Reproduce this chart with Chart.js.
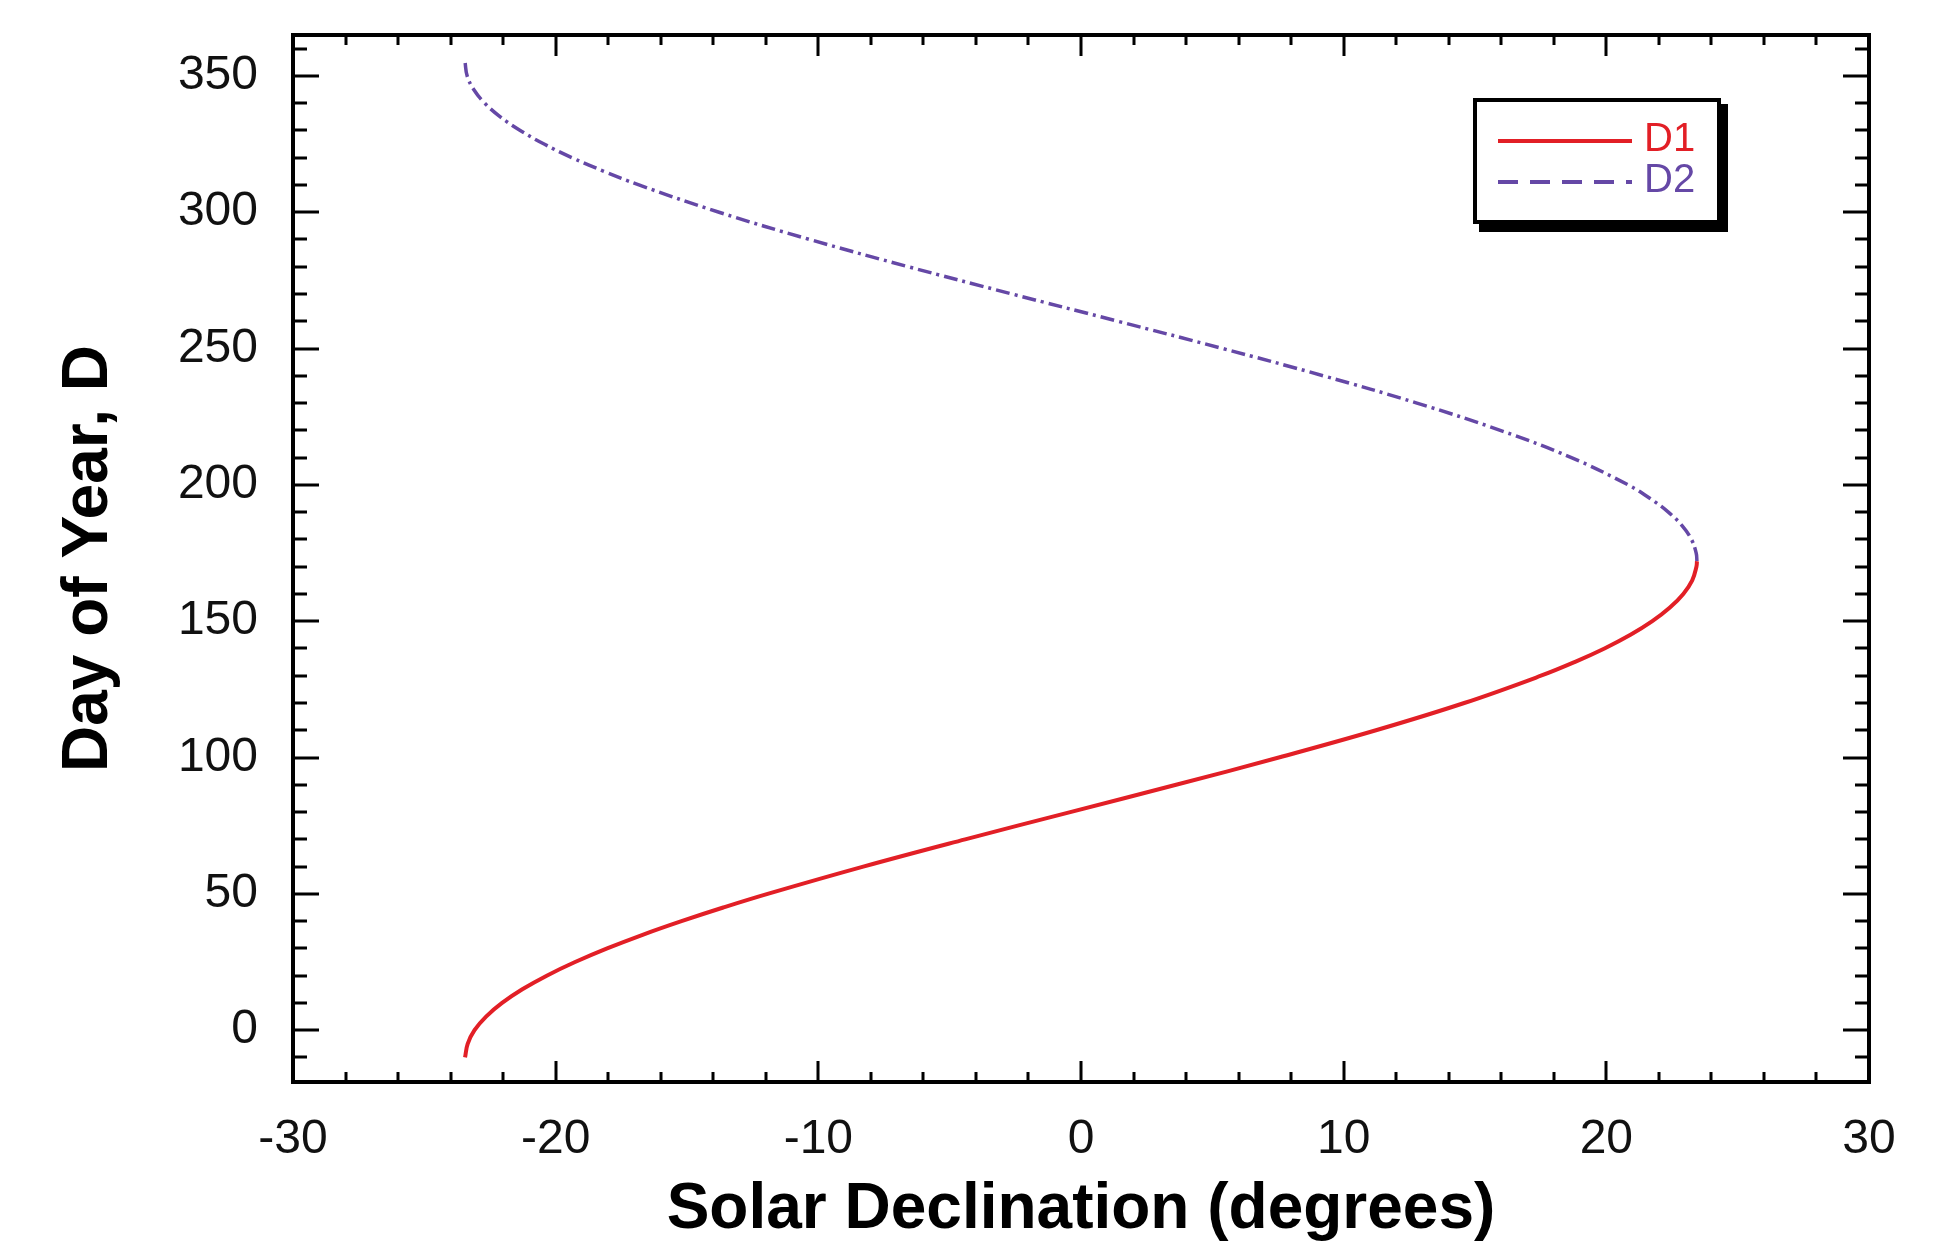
<!DOCTYPE html>
<html>
<head>
<meta charset="utf-8">
<title>Solar Declination vs Day of Year</title>
<script src="https://cdn.jsdelivr.net/npm/chart.js@4.4.1/dist/chart.umd.min.js"></script>
<style>
  html, body { margin: 0; padding: 0; background: #fff; }
  canvas { display: block; }
</style>
</head>
<body>
<canvas id="chart1" width="1948" height="1249"></canvas>
<script>
// values: day of year (y) against solar declination in degrees (x)
const d1Days = [-10, -5, 0, 5, 10, 15, 20, 25, 30, 35, 40, 45, 50, 60, 70, 80, 90, 100, 110, 120, 130, 135, 140, 145, 150, 155, 160, 165, 170, 172];
const d1Decl = [-23.45, -23.35, -23.09, -22.65, -22.04, -21.27, -20.34, -19.26, -18.04, -16.69, -15.21, -13.62, -11.93, -8.29, -4.41, -0.41, 3.62, 7.53, 11.23, 14.59, 17.51, 18.79, 19.93, 20.92, 21.75, 22.42, 22.93, 23.27, 23.43, 23.45];

const d2Days = [172, 175, 180, 185, 190, 195, 200, 210, 220, 230, 240, 250, 260, 270, 280, 290, 300, 310, 315, 320, 325, 330, 335, 340, 345, 350, 355];
const d2Decl = [23.45, 23.42, 23.24, 22.89, 22.36, 21.67, 20.83, 18.67, 15.96, 12.79, 9.23, 5.40, 1.41, -2.62, -6.57, -10.33, -13.78, -16.83, -18.16, -19.38, -20.44, -21.35, -22.11, -22.70, -23.12, -23.37, -23.45];

const xTickValues = [-30, -20, -10, 0, 10, 20, 30];
const yTickValues = [0, 50, 100, 150, 200, 250, 300, 350];
const xMinorStep = 2;
const yMinorStep = 10;

const seriesNames = ['D1', 'D2'];
const seriesColors = ['#e21f26', '#6548a6'];

const fontFamily = '"Liberation Sans", Arial, Helvetica, sans-serif';

function toPoints(xs, ys) {
    return ys.map((d, i) => ({ x: xs[i], y: d }));
}

// frame on all four sides, with tick marks pointing inward
const frameTicks = {
    id: 'frameTicks',
    afterDatasetsDraw(chart) {
        const { ctx, chartArea: a, scales: { x, y } } = chart;
        ctx.save();
        ctx.strokeStyle = '#000';
        ctx.lineWidth = 3;
        ctx.beginPath();
        for (let v = x.min + xMinorStep; v < x.max; v += xMinorStep) {
            const px = Math.round(x.getPixelForValue(v));
            const len = v % 10 === 0 ? 21 : 10;
            ctx.moveTo(px, a.bottom);
            ctx.lineTo(px, a.bottom - len);
            ctx.moveTo(px, a.top);
            ctx.lineTo(px, a.top + len);
        }
        for (let v = -10; v < y.max; v += yMinorStep) {
            const py = Math.round(y.getPixelForValue(v));
            const len = v % 50 === 0 ? 26 : 14;
            ctx.moveTo(a.left, py);
            ctx.lineTo(a.left + len, py);
            ctx.moveTo(a.right, py);
            ctx.lineTo(a.right - len, py);
        }
        ctx.stroke();
        ctx.lineWidth = 4;
        ctx.strokeRect(a.left, a.top, a.width, a.height);
        ctx.restore();
    }
};

// boxed legend with a drop shadow, top right
const boxLegend = {
    id: 'boxLegend',
    afterDatasetsDraw(chart) {
        const ctx = chart.ctx;
        const bx = 1473, by = 98, bw = 248, bh = 126;
        ctx.save();
        ctx.fillStyle = '#000';
        ctx.fillRect(bx + 6, by + 6, bw + 1, bh + 2);
        ctx.fillStyle = '#fff';
        ctx.fillRect(bx, by, bw, bh);
        ctx.lineWidth = 4;
        ctx.strokeStyle = '#000';
        ctx.strokeRect(bx + 2, by + 2, bw - 4, bh - 4);

        const rows = [141, 182];
        const dashes = [[], [20, 12]];
        ctx.font = '40px ' + fontFamily;
        ctx.textBaseline = 'middle';
        ctx.textAlign = 'left';
        chart.data.datasets.forEach((ds, i) => {
            ctx.beginPath();
            ctx.setLineDash(dashes[i]);
            ctx.strokeStyle = ds.borderColor;
            ctx.lineWidth = 4;
            ctx.moveTo(1498, rows[i]);
            ctx.lineTo(1632, rows[i]);
            ctx.stroke();
            ctx.setLineDash([]);
            ctx.fillStyle = ds.borderColor;
            ctx.fillText(ds.label, 1644, rows[i] - 1);
        });
        ctx.restore();
    }
};

const ctx = document.getElementById('chart1').getContext('2d');
const chart1 = new Chart(ctx, {
    type: 'scatter',
    data: {
        datasets: [{
            label: seriesNames[0],
            data: toPoints(d1Decl, d1Days),
            showLine: true,
            borderColor: seriesColors[0],
            backgroundColor: seriesColors[0],
            borderWidth: 4,
            pointRadius: 0,
            tension: 0.4,
            fill: false
        }, {
            label: seriesNames[1],
            data: toPoints(d2Decl, d2Days),
            showLine: true,
            borderColor: seriesColors[1],
            backgroundColor: seriesColors[1],
            borderWidth: 3.5,
            borderDash: [14, 5, 3, 5],
            pointRadius: 0,
            tension: 0.4,
            fill: false
        }]
    },
    options: {
        responsive: false,
        animation: false,
        layout: {
            padding: { top: 35, right: 79, bottom: 0, left: 0 }
        },
        plugins: {
            legend: { display: false },
            tooltip: { enabled: false }
        },
        scales: {
            x: {
                type: 'linear',
                position: 'bottom',
                min: -30,
                max: 30,
                afterBuildTicks: s => { s.ticks = xTickValues.map(v => ({ value: v })); },
                afterFit: s => { s.height = 167; },
                grid: { display: false, drawTicks: false, tickLength: 0 },
                border: { display: false },
                ticks: {
                    padding: 29,
                    autoSkip: false,
                    maxRotation: 0,
                    color: '#111',
                    font: { family: fontFamily, size: 48 }
                },
                title: {
                    display: true,
                    text: 'Solar Declination (degrees)',
                    color: '#000',
                    font: { family: fontFamily, size: 64, weight: 'bold' },
                    padding: { top: 0, bottom: 0 }
                }
            },
            y: {
                type: 'linear',
                position: 'left',
                min: -19,
                max: 365,
                afterBuildTicks: s => { s.ticks = yTickValues.map(v => ({ value: v })); },
                afterFit: s => {
                    s.width = 293;
                    // labels sit well inside the range, no extra room needed above/below
                    s.paddingTop = 0;
                    s.paddingBottom = 0;
                },
                grid: { display: false, drawTicks: false, tickLength: 0 },
                border: { display: false },
                ticks: {
                    padding: 35,
                    autoSkip: false,
                    color: '#111',
                    font: { family: fontFamily, size: 48 }
                },
                title: {
                    display: true,
                    text: 'Day of Year, D',
                    color: '#000',
                    font: { family: fontFamily, size: 64, weight: 'bold' },
                    padding: { top: 51, bottom: 0 }
                }
            }
        }
    },
    plugins: [frameTicks, boxLegend]
});
</script>
</body>
</html>
